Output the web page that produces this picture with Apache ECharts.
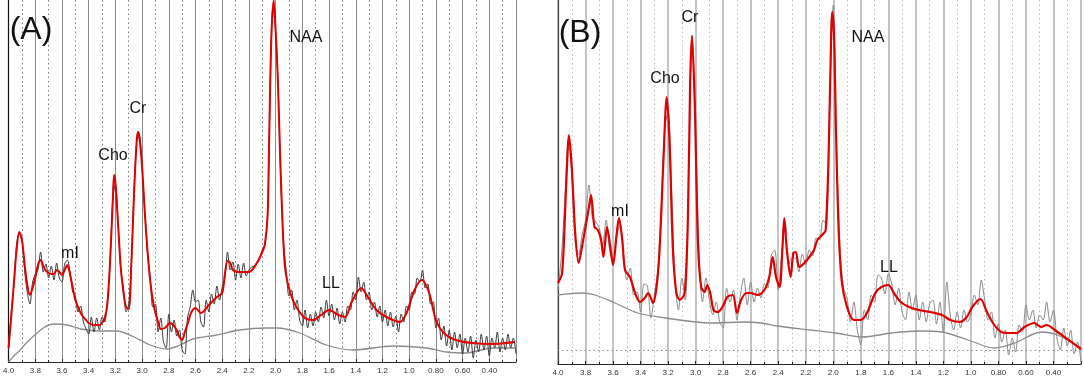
<!DOCTYPE html>
<html>
<head>
<meta charset="utf-8">
<script src="https://cdn.jsdelivr.net/npm/echarts@6/dist/echarts.min.js"></script>
<style>
  html, body { margin: 0; padding: 0; background: #fff; }
  #mychart { width: 1084px; height: 379px; }
</style>
</head>
<body>
<div id="mychart"></div>
<script>
"use strict";
// chemical shift axis (ppm), read right-to-left
const ppmMin = 0.2;
const ppmMax = 4.0;
const ppmStep = 0.2;

// panel A: fitted spectrum (red), [ppm, intensity]
const fitA = [[4.00, 14], [3.98, 45], [3.96, 79], [3.94, 112], [3.92, 130], [3.90, 122], [3.88, 98], [3.86, 77], [3.84, 67], [3.82, 74],
    [3.80, 84], [3.78, 97], [3.76, 102], [3.74, 96], [3.72, 91], [3.70, 89], [3.68, 88], [3.66, 88], [3.64, 92], [3.62, 90],
    [3.60, 87], [3.58, 92], [3.56, 97], [3.54, 88], [3.52, 75], [3.50, 62], [3.48, 55], [3.46, 49], [3.44, 45], [3.42, 42],
    [3.40, 39], [3.36, 37], [3.32, 37], [3.30, 39], [3.28, 44], [3.26, 58], [3.24, 100], [3.22, 160], [3.21, 187], [3.20, 180],
    [3.18, 138], [3.16, 95], [3.14, 70], [3.12, 55], [3.10, 53], [3.08, 100], [3.06, 170], [3.04, 222], [3.03, 230], [3.02, 225],
    [3.00, 195], [2.98, 150], [2.96, 112], [2.94, 82], [2.92, 62], [2.90, 49], [2.88, 40], [2.86, 33], [2.83, 34], [2.79, 39],
    [2.75, 34], [2.72, 25], [2.70, 22], [2.68, 30], [2.66, 38], [2.63, 50], [2.60, 54], [2.56, 49], [2.50, 57], [2.44, 65],
    [2.40, 69], [2.38, 88], [2.36, 101], [2.34, 99], [2.32, 92], [2.28, 90], [2.20, 90], [2.14, 99], [2.10, 110], [2.08, 118],
    [2.06, 147], [2.05, 212], [2.04, 282], [2.03, 332], [2.015, 362], [2.00, 332], [1.985, 287], [1.97, 222], [1.955, 162], [1.93, 95],
    [1.89, 69], [1.845, 55], [1.78, 44], [1.72, 42], [1.66, 47], [1.60, 52], [1.53, 47], [1.48, 45], [1.43, 60], [1.36, 74],
    [1.31, 65], [1.245, 52], [1.17, 45], [1.07, 40], [1.02, 49], [0.96, 72], [0.905, 82], [0.85, 69], [0.80, 42], [0.74, 29],
    [0.65, 22], [0.53, 19], [0.38, 18], [0.21, 20]];

// panel A: measured spectrum, one value every 0.02 ppm from 4.00 down to 0.20
const rawAStart = 4.0;
const rawAStep = 0.02;
const rawA = [12, 50, 76, 118, 128, 125, 92, 70, 58, 80,
    88, 92, 110, 90, 98, 84, 96, 82, 99, 84,
    80, 98, 102, 90, 70, 66, 50, 56, 40, 33,
    28, 45, 30, 44, 32, 45, 40, 62, 98, 162,
    178, 140, 92, 74, 50, 58, 98, 172, 220, 226,
    193, 152, 108, 86, 55, 58, 30, 44, 20, 14,
    48, 30, 42, 26, 32, 12, 8, 44, 55, 72,
    60, 62, 40, 35, 62, 50, 68, 58, 76, 62,
    75, 84, 110, 92, 100, 82, 98, 84, 99, 86,
    92, 95, 96, 100, 104, 112, 118, 148, 280, 356,
    330, 272, 176, 118, 90, 66, 72, 52, 62, 42,
    36, 52, 34, 48, 36, 50, 40, 55, 44, 62,
    46, 58, 42, 54, 38, 50, 40, 56, 52, 70,
    62, 85, 70, 80, 62, 70, 52, 60, 45, 56,
    40, 52, 36, 50, 35, 46, 30, 48, 40, 56,
    52, 70, 68, 84, 80, 92, 74, 78, 58, 60,
    34, 44, 22, 36, 16, 32, 12, 30, 14, 28,
    8, 24, 10, 26, 4, 22, 10, 28, 12, 26,
    6, 24, 14, 30, 10, 24, 12, 28, 14, 24,
    8];

// panel A: baseline
const baseA = [[4.0, 0], [3.96, 6], [3.92, 11], [3.86, 20], [3.74, 34], [3.66, 38], [3.56, 37], [3.46, 33], [3.31, 31], [3.19, 31],
    [3.06, 25], [2.94, 17], [2.815, 13], [2.715, 17], [2.62, 23], [2.44, 27], [2.27, 32], [2.07, 34], [1.99, 34], [1.82, 29],
    [1.62, 17], [1.42, 12], [1.12, 16], [0.87, 14], [0.72, 10], [0.575, 9], [0.375, 14], [0.21, 14]];

// panel B: fitted spectrum
const fitB = [[4.00, 67], [3.97, 77], [3.94, 167], [3.92, 215], [3.90, 183], [3.875, 117], [3.85, 87], [3.826, 103], [3.80, 123], [3.775, 143],
    [3.76, 155], [3.735, 123], [3.71, 120], [3.687, 110], [3.67, 93], [3.644, 123], [3.62, 103], [3.60, 85], [3.573, 117], [3.557, 132],
    [3.533, 110], [3.513, 80], [3.477, 73], [3.44, 57], [3.405, 48], [3.37, 52], [3.345, 57], [3.31, 47], [3.27, 83], [3.236, 183],
    [3.21, 253], [3.19, 210], [3.165, 100], [3.14, 57], [3.115, 50], [3.08, 57], [3.056, 133], [3.04, 267], [3.027, 314], [3.007, 250],
    [2.983, 107], [2.96, 63], [2.935, 58], [2.916, 65], [2.894, 57], [2.87, 40], [2.84, 38], [2.805, 43], [2.77, 53], [2.73, 55],
    [2.70, 37], [2.67, 50], [2.63, 57], [2.60, 57], [2.55, 55], [2.50, 60], [2.465, 73], [2.44, 93], [2.416, 73], [2.39, 63],
    [2.37, 100], [2.356, 132], [2.337, 100], [2.31, 73], [2.29, 97], [2.272, 98], [2.248, 83], [2.21, 87], [2.163, 95], [2.14, 100],
    [2.115, 110], [2.067, 117], [2.055, 120], [2.036, 183], [2.02, 283], [2.008, 338], [1.995, 317], [1.98, 217], [1.96, 117], [1.937, 67],
    [1.90, 43], [1.85, 30], [1.80, 30], [1.755, 37], [1.695, 57], [1.65, 63], [1.60, 65], [1.56, 57], [1.51, 48], [1.45, 43],
    [1.38, 40], [1.296, 38], [1.21, 35], [1.15, 30], [1.08, 28], [1.03, 33], [0.99, 43], [0.93, 51], [0.89, 40], [0.84, 27],
    [0.78, 18], [0.73, 17], [0.67, 17], [0.61, 23], [0.54, 27], [0.49, 23], [0.45, 25], [0.39, 20], [0.29, 10], [0.20, 1]];

// panel B: measured spectrum, one value every 0.025 ppm from 4.000 down to 0.200
const rawBStart = 4.0;
const rawBStep = 0.025;
const rawB = [60, 95, 150, 210, 175, 110, 95, 115, 130, 165,
    132, 128, 122, 105, 130, 100, 88, 112, 125, 98,
    70, 82, 55, 58, 38, 66, 64, 32, 55, 80,
    140, 222, 238, 162, 70, 40, 72, 50, 178, 315,
    218, 96, 48, 72, 50, 35, 48, 28, 22, 62,
    48, 60, 30, 55, 72, 45, 68, 48, 62, 52,
    66, 62, 95, 100, 60, 95, 128, 85, 92, 92,
    78, 96, 85, 100, 94, 112, 110, 130, 125, 255,
    345, 195, 100, 62, 52, 28, 48, 20, 5, 40,
    30, 55, 48, 75, 72, 56, 76, 66, 45, 62,
    38, 30, 58, 40, 55, 30, 48, 28, 46, 50,
    26, 48, 17, 68, 35, 20, 38, 22, 40, 28,
    36, 55, 45, 70, 50, 30, 38, 12, 26, 8,
    20, -5, 12, -2, 25, 18, 45, 30, 40, 22,
    35, 30, 48, 28, 40, 12, 0, 22, 4, 20,
    -4, 8, -12];

// panel B: baseline
const baseB = [[4.0, 55], [3.83, 57], [3.73, 55], [3.585, 47], [3.42, 37], [3.22, 32], [3.0, 28], [2.89, 27], [2.645, 28], [2.525, 27],
    [2.405, 24], [2.165, 20], [1.985, 17], [1.79, 13], [1.574, 17], [1.38, 19], [1.21, 18], [1.02, 10], [0.83, 2], [0.68, 7],
    [0.49, 18], [0.37, 15], [0.2, 2]];

function toPairs(values, start, step) {
    return values.map((v, i) => [+(start - i * step).toFixed(3), v]);
}

function ppmLabel(v) {
    if (Math.abs(v - ppmMin) < 1e-6) {
        return '';
    }
    return v < 0.99 ? v.toFixed(2) : v.toFixed(1);
}

function makeX(gridIndex, solidColor, solidWidth, dotColor) {
    return {
        type: 'value',
        gridIndex,
        inverse: true,
        min: ppmMin,
        max: ppmMax,
        interval: ppmStep,
        axisLine: { show: true, onZero: false, lineStyle: { color: '#222', width: 1.2 } },
        axisTick: { show: true, length: 3, inside: true, lineStyle: { color: '#222' } },
        minorTick: { show: true, splitNumber: 2, length: 2, lineStyle: { color: '#222' } },
        axisLabel: {
            fontSize: 8,
            color: '#333',
            margin: 5,
            fontFamily: 'Liberation Sans',
            showMinLabel: true,
            showMaxLabel: true,
            formatter: ppmLabel
        },
        splitLine: { show: true, lineStyle: { color: solidColor, width: solidWidth } },
        minorSplitLine: { show: true, lineStyle: { color: dotColor, width: 1, type: [1.5, 3] } }
    };
}

function makeY(gridIndex, min, max, color) {
    return {
        type: 'value',
        gridIndex,
        min,
        max,
        axisLine: { show: true, onZero: false, lineStyle: { color, width: 1.2 } },
        axisTick: { show: false },
        axisLabel: { show: false },
        splitLine: { show: false }
    };
}

function lineSeries(idx, data, color, width, z) {
    return {
        type: 'line',
        xAxisIndex: idx,
        yAxisIndex: idx,
        data,
        showSymbol: false,
        smooth: 0.3,
        z,
        lineStyle: { color, width },
        emphasis: { disabled: true }
    };
}

const labelStyle = { fontFamily: 'Liberation Sans', fontSize: 16, fill: '#111' };
function tag(text, x, y, size) {
    return {
        type: 'text',
        x, y,
        style: Object.assign({}, labelStyle, { text, fontSize: size || 16, textAlign: 'center', textVerticalAlign: 'middle' }),
        z: 100
    };
}

const container = document.getElementById('mychart');
const myChart = echarts.init(container, null, { renderer: 'canvas' });

const baseSeriesB = lineSeries(1, baseB, '#8c8c8c', 1.3, 3);
baseSeriesB.markLine = {
    silent: true,
    symbol: ['none', 'none'],
    label: { show: false },
    lineStyle: { color: '#888', width: 1, type: [1.5, 3] },
    data: [{ yAxis: 0 }]
};

const option = {
    animation: false,
    backgroundColor: '#fff',
    grid: [
        { left: 8, top: 0, width: 508, height: 362 },
        { left: 558, top: 0, width: 525, height: 364 }
    ],
    xAxis: [
        makeX(0, '#8a8a8a', 1, '#777'),
        makeX(1, '#c4c4c4', 2, '#bbb')
    ],
    yAxis: [
        makeY(0, 0, 362, '#111'),
        makeY(1, -14, 350, '#444')
    ],
    series: [
        lineSeries(0, baseA, '#8c8c8c', 1.3, 3),
        lineSeries(0, toPairs(rawA, rawAStart, rawAStep), '#3a3a3a', 1, 4),
        lineSeries(0, fitA, '#e00000', 2, 5),
        baseSeriesB,
        lineSeries(1, toPairs(rawB, rawBStart, rawBStep), '#8a8a8a', 1, 4),
        lineSeries(1, fitB, '#e00000', 2.2, 5)
    ],
    graphic: [
        tag('(A)', 31, 30, 32),
        tag('mI', 70, 254),
        tag('Cho', 113, 156),
        tag('Cr', 138, 109),
        tag('NAA', 306, 38),
        tag('LL', 331, 284),
        tag('(B)', 580, 33, 32),
        tag('mI', 620, 212),
        tag('Cho', 665, 79),
        tag('Cr', 690, 18),
        tag('NAA', 868, 38),
        tag('LL', 889, 268)
    ]
};
myChart.setOption(option);
</script>
</body>
</html>
